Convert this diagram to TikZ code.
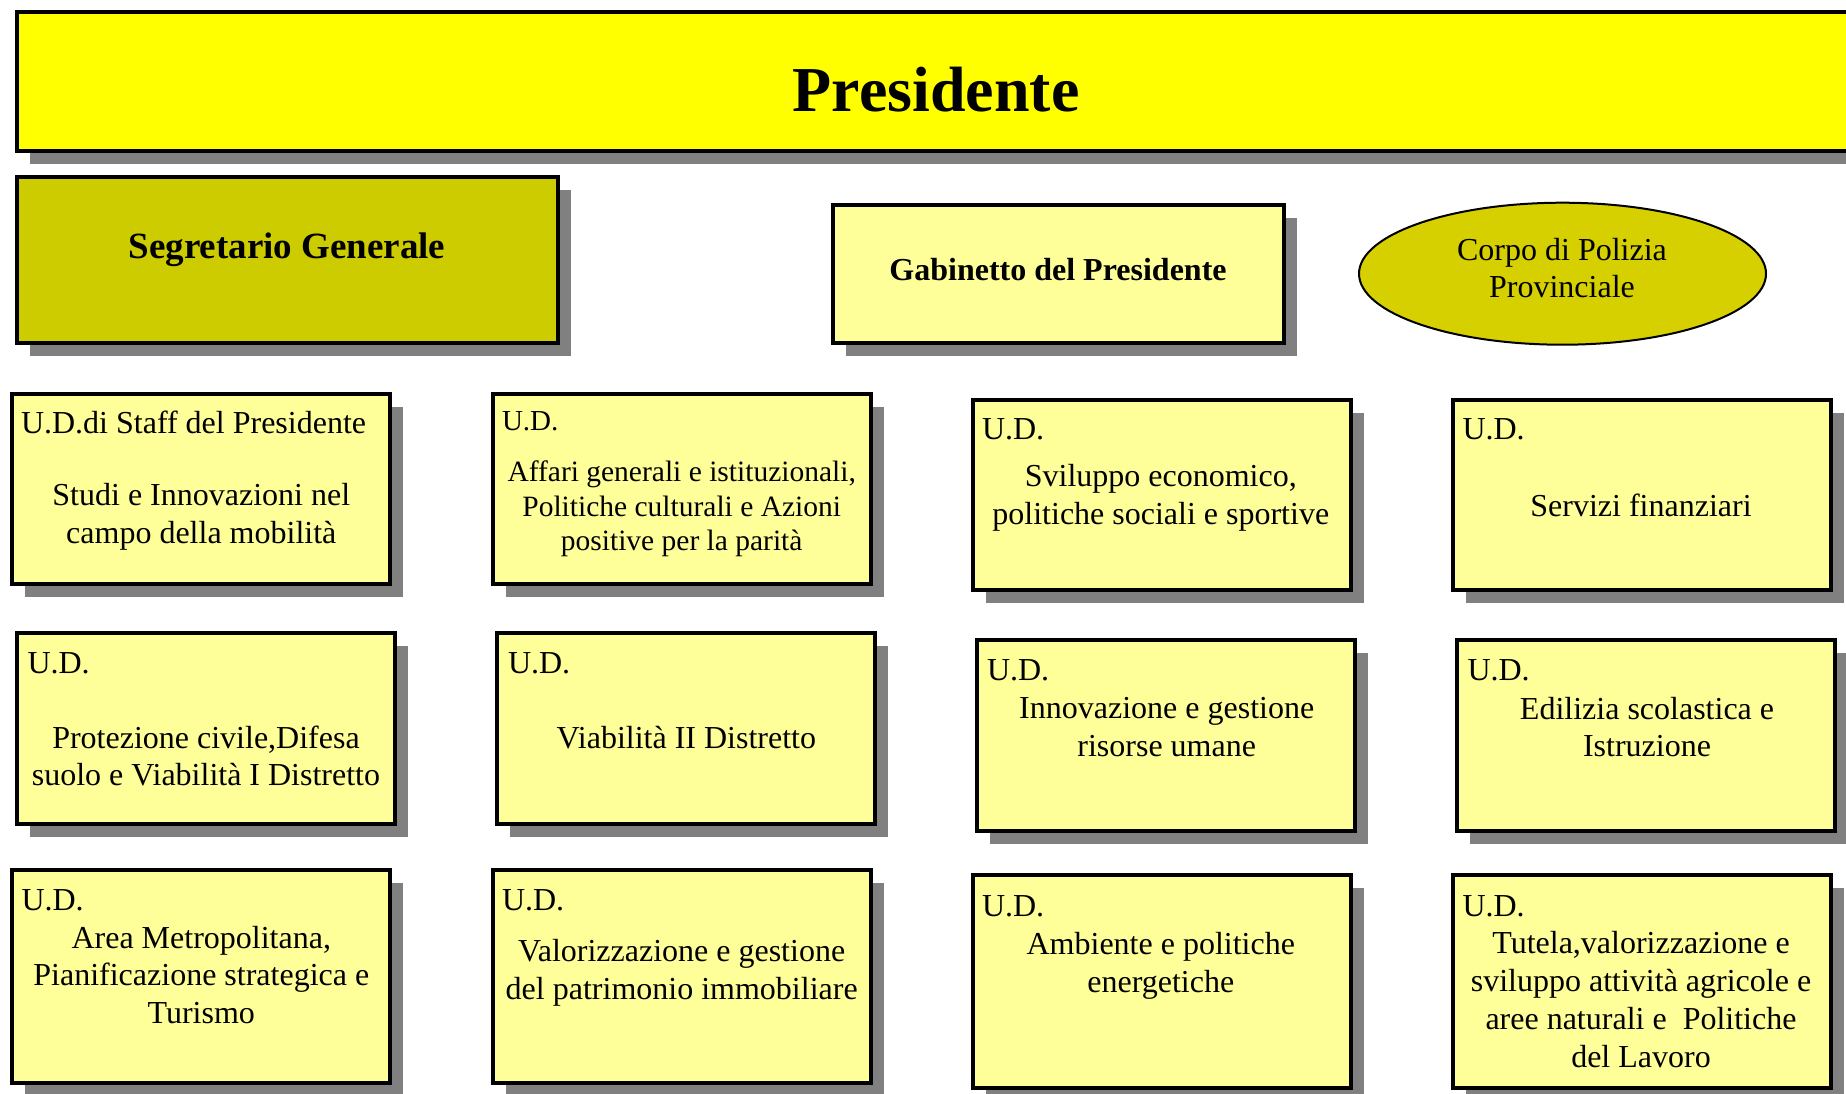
\documentclass[tikz,border=0pt]{standalone}
\usepackage{fontspec}
\setmainfont{Liberation Serif}
\usetikzlibrary{shapes.geometric,shadows}
\definecolor{presyel}{RGB}{255,255,0}
\definecolor{segol}{RGB}{204,204,0}
\definecolor{polol}{RGB}{214,208,0}
\definecolor{boxyel}{RGB}{255,255,153}
\definecolor{shgray}{RGB}{128,128,128}
\tikzset{
  shbox/.style={draw=black, line width=4pt, rectangle, inner sep=0pt, outer sep=0pt,
    drop shadow={shadow xshift=13pt, shadow yshift=-13pt, fill=shgray, opacity=1}},
  udbox/.style={shbox, fill=boxyel, minimum width=378pt},
  rowa/.style={udbox, minimum height=190pt},
  rowb/.style={udbox, minimum height=191pt},
  rowc/.style={udbox, minimum height=213pt},
  txt/.style={inner sep=0pt, outer sep=0pt, align=center, font=\fontsize{32}{37.7}\selectfont},
  smalltxt/.style={inner sep=0pt, outer sep=0pt, align=center, font=\fontsize{29.5}{34.7}\selectfont},
  udlbl/.style={inner sep=0pt, outer sep=0pt, anchor=west, font=\fontsize{32}{37.7}\selectfont},
  smallud/.style={inner sep=0pt, outer sep=0pt, anchor=west, font=\fontsize{29}{34}\selectfont}
}
\begin{document}
\begin{tikzpicture}[x=1pt,y=-1pt]
\useasboundingbox (0,0) rectangle (1846,1093);
\clip (0,0) rectangle (1846,1093);
\fill[white] (0,0) rectangle (1846,1093);

% top level
\node[shbox, fill=presyel, minimum width=1838pt, minimum height=139pt] (pres) at (936,81.5) {};
\node[inner sep=0pt, font=\bfseries\fontsize{64}{70}\selectfont] (presT) at (936,90) {Presidente};

\node[shbox, fill=segol, minimum width=541pt, minimum height=166pt] (seg) at (287.4,260) {};
\node[inner sep=0pt, font=\bfseries\fontsize{37}{42}\selectfont] (segT) at (287,250) {Segretario Generale};

\node[shbox, fill=boxyel, minimum width=451pt, minimum height=138pt] (gab) at (1058.5,274) {};
\node[inner sep=0pt, font=\bfseries\fontsize{32}{37}\selectfont] (gabT) at (1058,270) {Gabinetto del Presidente};

\node[ellipse, draw=black, line width=2pt, fill=polol, inner sep=0pt,
      minimum width=407pt, minimum height=142pt] (pol) at (1562.5,273.7) {};
\node[inner sep=0pt, align=center, font=\fontsize{32}{36.5}\selectfont] (polT) at (1562,268) {Corpo di Polizia\\Provinciale};

% row 1
\node[rowa] (a1) at (201.3,488.5) {};
\node[udlbl] (a1u) at (21,422.6) {U.D.di Staff del Presidente};
\node[txt] (a1t) at (201.3,517) {Studi e Innovazioni nel\\campo della mobilità};

\node[rowa] (a2) at (681.7,488.5) {};
\node[smallud] (a2u) at (502,421.5) {U.D.};
\node[smalltxt] (a2t) at (681.7,509) {Affari generali e istituzionali,\\Politiche culturali e Azioni\\positive per la parità};

\node[rowa] (a3) at (1161.5,495) {};
\node[udlbl] (a3u) at (982,429.7) {U.D.};
\node[txt] (a3t) at (1160.8,497.5) {Sviluppo economico,\\politiche sociali e sportive};

\node[rowa] (a4) at (1642,495) {};
\node[udlbl] (a4u) at (1462.5,429.7) {U.D.};
\node[txt] (a4t) at (1641,505) {Servizi finanziari};

% row 2
\node[rowb] (b1) at (205.7,728.5) {};
\node[udlbl] (b1u) at (27.5,662.8) {U.D.};
\node[txt] (b1t) at (206,756) {Protezione civile,Difesa\\suolo e Viabilità I Distretto};

\node[rowb] (b2) at (686,728.5) {};
\node[udlbl] (b2u) at (508,662.8) {U.D.};
\node[txt] (b2t) at (686.4,738) {Viabilità II Distretto};

\node[rowb] (b3) at (1166.4,735.5) {};
\node[udlbl] (b3u) at (987,670) {U.D.};
\node[txt] (b3t) at (1166.7,727) {Innovazione e gestione\\risorse umane};

\node[rowb] (b4) at (1646,735.5) {};
\node[udlbl] (b4u) at (1467.5,670) {U.D.};
\node[txt] (b4t) at (1647,727) {Edilizia scolastica e\\Istruzione};

% row 3
\node[rowc] (c1) at (201.3,976.5) {};
\node[udlbl] (c1u) at (21.5,900.6) {U.D.};
\node[txt] (c1t) at (201.3,975) {Area Metropolitana,\\Pianificazione strategica e\\Turismo};

\node[rowc] (c2) at (681.7,976.5) {};
\node[udlbl] (c2u) at (502,900.6) {U.D.};
\node[txt] (c2t) at (681.7,973) {Valorizzazione e gestione\\del patrimonio immobiliare};

\node[rowc] (c3) at (1161.5,981.5) {};
\node[udlbl] (c3u) at (982,906.5) {U.D.};
\node[txt] (c3t) at (1160.8,966) {Ambiente e politiche\\energetiche};

\node[rowc] (c4) at (1642,981.5) {};
\node[udlbl] (c4u) at (1462.5,906.5) {U.D.};
\node[txt] (c4t) at (1641,999.5) {Tutela,valorizzazione e\\sviluppo attività agricole e\\aree naturali e \ Politiche\\del Lavoro};
\end{tikzpicture}
\end{document}
